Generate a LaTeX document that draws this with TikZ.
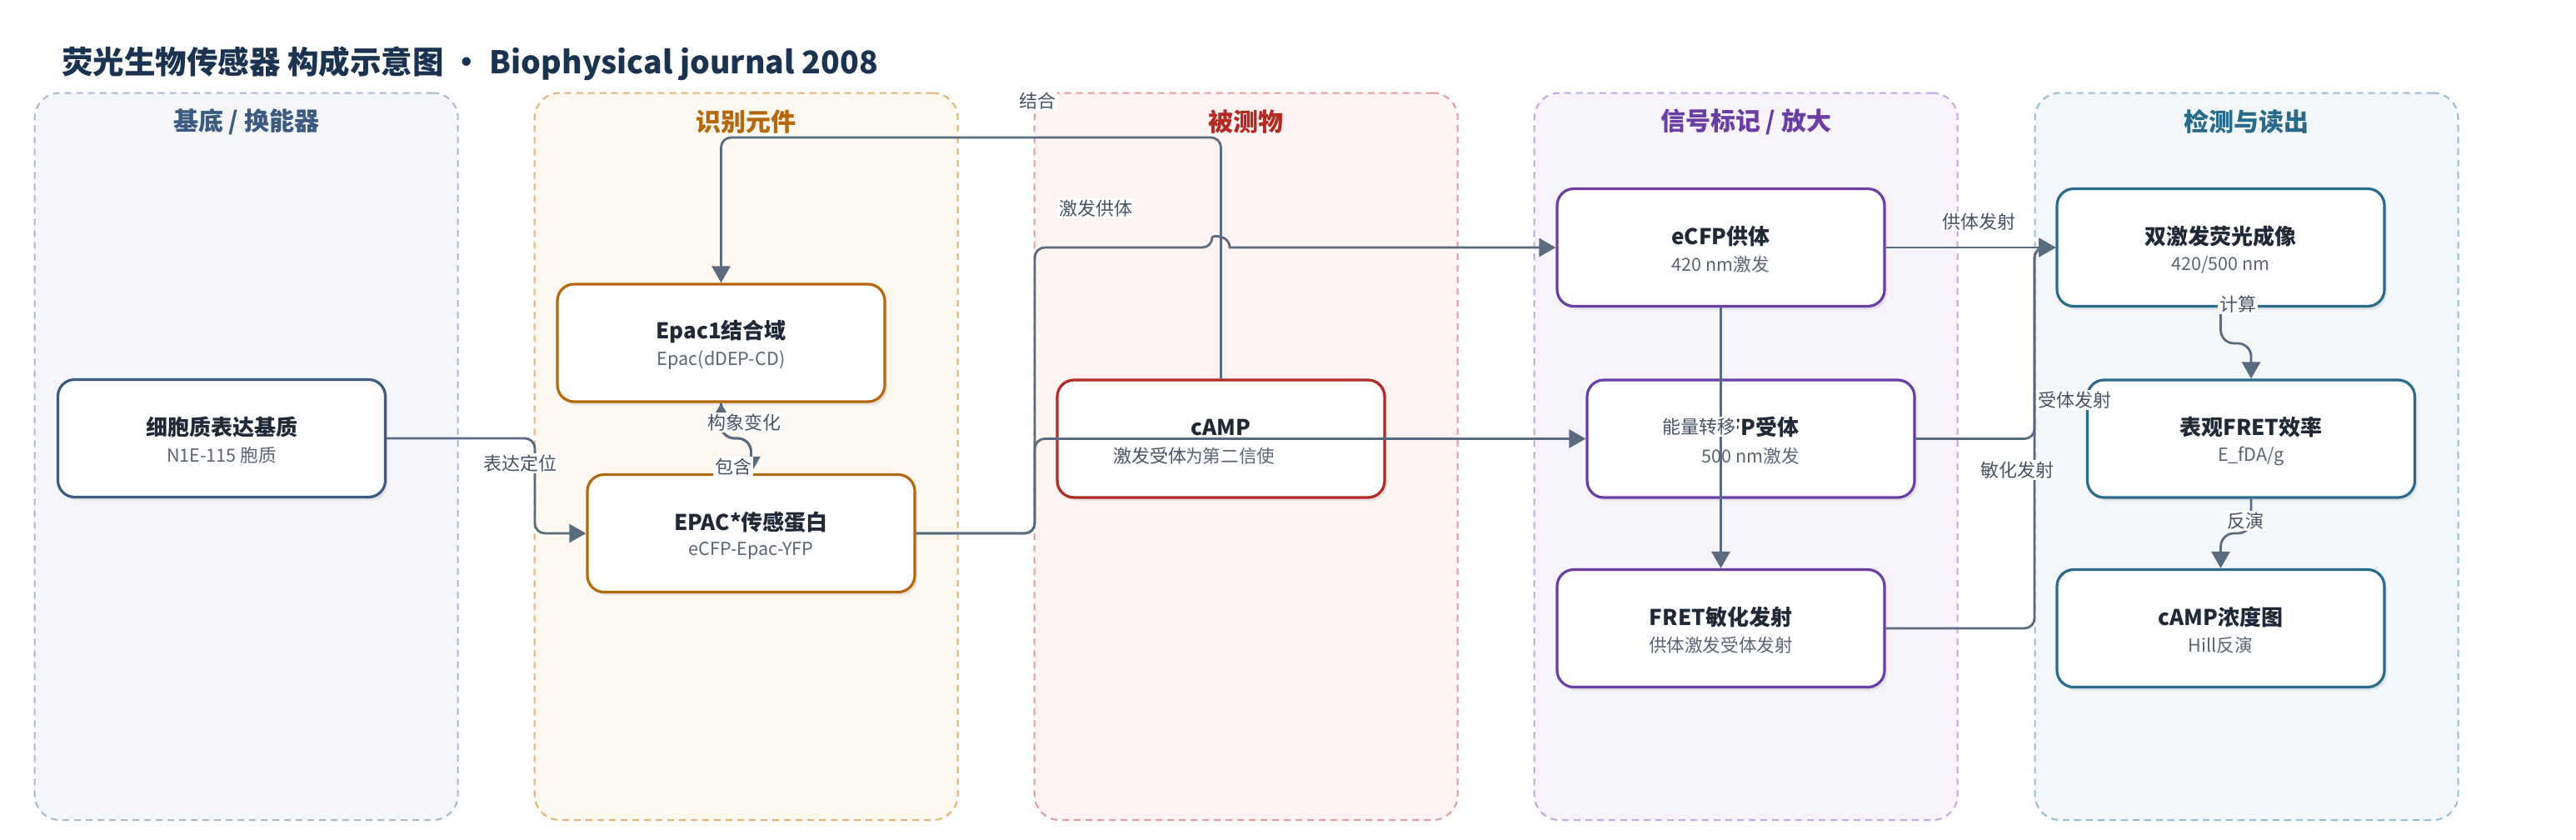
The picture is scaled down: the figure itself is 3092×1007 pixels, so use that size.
\documentclass[tikz,border=0pt]{standalone}
\usepackage{fontspec}
\setmainfont{Noto Sans CJK SC}
\usetikzlibrary{arrows.meta,shadows,calc}

\definecolor{titlec}{HTML}{1B3350}
\definecolor{edgec}{HTML}{5A6B80}
\definecolor{lblc}{HTML}{465366}
\definecolor{ttlc}{HTML}{1F2937}
\definecolor{subc}{HTML}{5B6573}
\definecolor{laAh}{HTML}{3D5A80}\definecolor{laAb}{HTML}{A9B9CC}\definecolor{laAf}{HTML}{F4F6FA}
\definecolor{laBh}{HTML}{B5690F}\definecolor{laBb}{HTML}{E3B36E}\definecolor{laBf}{HTML}{FDF8F0}
\definecolor{laCh}{HTML}{B22A22}\definecolor{laCb}{HTML}{E59A9A}\definecolor{laCf}{HTML}{FDF3F3}
\definecolor{laDh}{HTML}{6A3FA3}\definecolor{laDb}{HTML}{C3A6E3}\definecolor{laDf}{HTML}{F6F3FB}
\definecolor{laEh}{HTML}{2A6B8C}\definecolor{laEb}{HTML}{95BDD3}\definecolor{laEf}{HTML}{F3F7F9}

\tikzset{
  lane/.style={line width=1pt, dash pattern=on 4pt off 3pt, rounded corners=15pt,
    minimum width=254pt, minimum height=436.25pt, inner sep=0pt},
  lanehd/.style={font=\bfseries\fontsize{15pt}{18pt}\selectfont, inner sep=0pt},
  nodebox/.style={line width=1.6pt, rounded corners=10pt, fill=white,
    minimum width=196.5pt, minimum height=70.5pt, inner sep=0pt,
    drop shadow={opacity=0.16, shadow xshift=1.5pt, shadow yshift=-2pt}},
  ttl/.style={font=\bfseries\fontsize{13pt}{15pt}\selectfont, text=ttlc, inner sep=0pt},
  subt/.style={font=\fontsize{10.8pt}{13pt}\selectfont, text=subc, inner sep=0pt},
  edge/.style={draw=edgec, line width=1.4pt, rounded corners=6pt,
    -{Triangle[length=10pt,width=11pt]}},
  lbl/.style={fill=white, text=lblc, font=\fontsize{11pt}{13pt}\selectfont, inner sep=1pt},
}

\newcommand\mkbox[6]{%
  \node[nodebox, draw=#4] (#1) at (#2,#3) {};
  \node[ttl] (#1t) at (#2,{#3-13.5}) {#5};
  \node[subt] (#1s) at (#2,{#3+20.5}) {#6};
}

\begin{document}
\begin{tikzpicture}[x=0.5pt, y=-0.5pt]
\useasboundingbox (0,0) rectangle (3092,1007);
\fill[white] (0,0) rectangle (3092,1007);

% title
\node[anchor=base west, inner sep=0pt, text=titlec,
  font=\bfseries\fontsize{18.75pt}{22pt}\selectfont] (title) at (74,88)
  {荧光生物传感器 构成示意图 • Biophysical journal 2008};

% lanes
\node[lane, draw=laAb, fill=laAf] (laneA) at (295.7,547.75) {};
\node[lane, draw=laBb, fill=laBf] (laneB) at (895.7,547.75) {};
\node[lane, draw=laCb, fill=laCf] (laneC) at (1495.7,547.75) {};
\node[lane, draw=laDb, fill=laDf] (laneD) at (2095.7,547.75) {};
\node[lane, draw=laEb, fill=laEf] (laneE) at (2696.5,547.75) {};
\node[lanehd, text=laAh] (hA) at (295.7,146) {基底 / 换能器};
\node[lanehd, text=laBh] (hB) at (895.7,146) {识别元件};
\node[lanehd, text=laCh] (hC) at (1495.7,146) {被测物};
\node[lanehd, text=laDh] (hD) at (2095.7,146) {信号标记 / 放大};
\node[lanehd, text=laEh] (hE) at (2696.5,146) {检测与读出};

% nodes
\mkbox{n1}{266}{526}{laAh}{细胞质表达基质}{N1E-115 胞质}
\mkbox{n2}{865.5}{411.5}{laBh}{Epac1结合域}{Epac(dDEP-CD)}
\mkbox{n3}{901.5}{640}{laBh}{EPAC*传感蛋白}{eCFP-Epac-YFP}
\mkbox{n4}{1465.5}{526.5}{laCh}{cAMP}{作为第二信使}
\mkbox{n5}{2065.5}{297}{laDh}{eCFP供体}{420 nm激发}
\mkbox{n6}{2101.5}{526.5}{laDh}{eYFP受体}{500 nm激发}
\mkbox{n7}{2065.5}{754}{laDh}{FRET敏化发射}{供体激发受体发射}
\mkbox{n8}{2665.5}{297}{laEh}{双激发荧光成像}{420/500 nm}
\mkbox{n9}{2702}{526.5}{laEh}{表观FRET效率}{E\_fDA/g}
\mkbox{n10}{2665.5}{754}{laEh}{cAMP浓度图}{Hill反演}

% edges
\draw[edge] (n1.east) -- (642,526) -- (642,640) -- (n3.west);
\draw[edge] (n4.north) |- (n2.north |- 0,165) -- (n2.north);
\draw[edge] (n3.east) -- (1242,640) -- (1242,297) -- (1455,297) [sharp corners]
  .. controls (1455,282) and (1476,282) .. (1476,297) -- (n5.west);
\draw[edge] (n3.east) -- (1242,640) -- (1242,526.5) -- (n6.west);
\draw[edge] (n5.south) -- (n7.north);
\draw[edge] (n5.east) -- (n8.west);
\draw[edge] (n6.east) -- (2442,526.5) -- (2442,297) -- (n8.west);
\draw[edge] (n7.east) -- (2442,754) -- (2442,297) -- (n8.west);
\draw[edge, rounded corners=8pt] (n8.south) -- (n8.south |- 0,412) -- (n9.north |- 0,412) -- (n9.north);
\draw[edge, rounded corners=8pt] (n9.south) -- (n9.south |- 0,640) -- (n10.north |- 0,640) -- (n10.north);
\draw[edge, rounded corners=8pt] (n2.south) -- (n2.south |- 0,526) -- (n3.north |- 0,526) -- (n3.north);
\draw[edge, rounded corners=8pt] (n3.north) -- (n3.north |- 0,526) -- (n2.south |- 0,526) -- (n2.south);

% edge labels
\node[lbl] (l1) at (624,556) {表达定位};
\node[lbl] (l2) at (1245,121) {结合};
\node[lbl] (l3) at (1315,250) {激发供体};
\node[lbl, inner sep=0.5pt] (l4) at (1380,547) {激发受体};
\node[lbl] (l5) at (2039,512) {能量转移};
\node[lbl] (l6) at (2375,266) {供体发射};
\node[lbl] (l7) at (2490,480) {受体发射};
\node[lbl] (l8) at (2421,564) {敏化发射};
\node[lbl] (l9) at (2686,365) {计算};
\node[lbl] (l10) at (2695,625) {反演};
\node[lbl] (l11) at (893,507) {构象变化};
\node[lbl] (l12) at (880,560) {包含};
\end{tikzpicture}
\end{document}
